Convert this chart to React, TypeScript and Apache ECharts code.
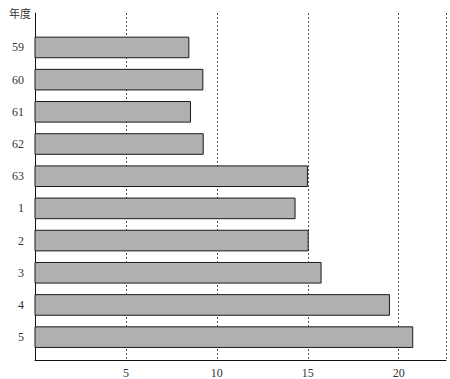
import React, { useEffect, useRef } from "react";
import * as echarts from "echarts";

const years = ["59", "60", "61", "62", "63", "1", "2", "3", "4", "5"];
const values = [8.46, 9.23, 8.55, 9.25, 14.98, 14.3, 15.02, 15.73, 19.49, 20.77];
const xTicks = [5, 10, 15, 20];
const axisTitle = "年度";

export default function App() {
  const ref = useRef<HTMLDivElement>(null);
  useEffect(() => {
    if (!ref.current) return;
    const chart = echarts.init(ref.current, null, { renderer: "svg" });
    const font = "Liberation Serif";
    chart.setOption({
      animation: false,
      backgroundColor: "#ffffff",
      title: {
        text: axisTitle,
        left: 4,
        top: 2,
        textStyle: { fontSize: 11, fontWeight: "normal", color: "#333", fontFamily: "Noto Sans CJK JP" },
      },
      grid: { left: 35, right: 4, top: 13, bottom: 18, containLabel: false },
      xAxis: {
        type: "value",
        min: 0,
        max: 22.6,
        interval: 5,
        axisLine: { show: true, onZero: false, lineStyle: { color: "#111", width: 1 } },
        axisTick: { show: false },
        axisLabel: {
          color: "#333",
          fontSize: 12,
          fontFamily: font,
          margin: 7,
          formatter: (v: number) => (xTicks.includes(v) ? String(v) : ""),
        },
        splitLine: { show: true, lineStyle: { color: "#555", type: [2, 2], width: 1 } },
      },
      yAxis: {
        type: "value",
        inverse: true,
        min: -1.07,
        max: 9.71,
        axisLine: { show: true, onZero: false, lineStyle: { color: "#111", width: 1 } },
        axisTick: { show: false },
        splitLine: { show: false },
        axisLabel: {
          color: "#333",
          fontSize: 12,
          fontFamily: font,
          margin: 11,
          customValues: years.map((_, i) => i),
          formatter: (v: number) => years[Math.round(v)] ?? "",
        },
      },
      series: [
        {
          type: "custom",
          encode: { x: 0, y: 1 },
          data: values.map((v, i) => [v, i]),
          renderItem: (params: any, api: any) => {
            const v = api.value(0);
            const i = api.value(1);
            const s = api.coord([0, i]);
            const e = api.coord([v, i]);
            const h = api.size([0, 0.64])[1];
            return {
              type: "rect",
              shape: { x: s[0], y: s[1] - h / 2, width: e[0] - s[0], height: h },
              style: { fill: "#b0b0b0", stroke: "#1a1a1a", lineWidth: 1 },
            };
          },
        },
      ],
    });
    return () => chart.dispose();
  }, []);
  return (
    <div
      ref={ref}
      style={{ position: "fixed", left: 0, top: 0, width: 450, height: 379 }}
    />
  );
}
